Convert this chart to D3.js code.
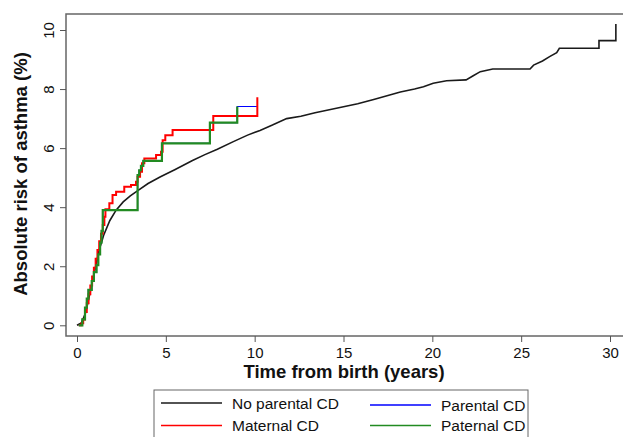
<!DOCTYPE html>
<html>
<head>
<meta charset="utf-8">
<script src="https://cdn.jsdelivr.net/npm/d3@7"></script>
<style>
  body { margin: 0; background: #fff; }
  text { font-family: "Liberation Sans", Arial, sans-serif; }
</style>
</head>
<body>
<div id="chart"></div>
<script>
// Data: cumulative absolute risk (%) by time from birth (years)
const noParentalT = [0, 0.25, 0.5, 0.75, 1.0, 1.25, 1.5, 1.85, 2.2, 2.6, 3.0, 3.4, 4.0, 4.7, 5.5, 6.5, 7.2, 7.9, 8.8, 9.6, 10.3, 11.0, 11.8, 12.6, 13.4, 14.2, 15.0, 15.8, 16.7, 17.5, 18.2, 19.0, 19.5, 20.05, 20.8, 21.9, 22.3, 22.7, 23.4, 25.5, 25.7, 26.2, 26.6, 27.0, 27.15, 29.38, 29.38, 30.33, 30.33];
const noParentalV = [0, 0.08, 0.45, 1.15, 1.85, 2.55, 3.05, 3.55, 3.9, 4.18, 4.38, 4.55, 4.8, 5.03, 5.27, 5.58, 5.78, 5.96, 6.22, 6.44, 6.6, 6.78, 7.0, 7.08, 7.2, 7.3, 7.4, 7.5, 7.65, 7.78, 7.9, 8.0, 8.08, 8.2, 8.28, 8.31, 8.45, 8.59, 8.68, 8.68, 8.81, 8.95, 9.1, 9.23, 9.38, 9.38, 9.64, 9.64, 10.2];

const maternalT = [0.1, 0.25, 0.35, 0.45, 0.55, 0.65, 0.75, 0.85, 0.95, 1.05, 1.15, 1.25, 1.35, 1.45, 1.54, 1.6, 1.82, 2.0, 2.2, 2.66, 3.04, 3.32, 3.41, 3.55, 3.66, 3.79, 4.45, 4.73, 4.82, 4.97, 5.38, 7.67, 10.15];
const maternalV = [0, 0.07, 0.2, 0.45, 0.75, 1.05, 1.35, 1.65, 1.95, 2.25, 2.55, 2.85, 3.1, 3.4, 3.68, 3.93, 4.13, 4.41, 4.52, 4.69, 4.75, 4.86, 5.03, 5.2, 5.49, 5.65, 5.77, 5.88, 6.27, 6.44, 6.61, 7.09, 7.72];

const paternalT = [0.1, 0.3, 0.45, 0.55, 0.64, 0.83, 0.95, 1.1, 1.2, 1.3, 1.38, 1.45, 3.41, 3.5, 3.6, 3.73, 4.78, 7.48, 9.02];
const paternalV = [0, 0.2, 0.6, 0.9, 1.2, 1.5, 1.8, 2.04, 2.4, 2.8, 3.2, 3.9, 5.09, 5.25, 5.4, 5.57, 6.16, 6.86, 7.41];

const parentalT = [0.1, 0.3, 0.45, 0.55, 0.64, 0.83, 0.95, 1.1, 1.2, 1.3, 1.38, 1.45, 3.41, 3.5, 3.6, 3.73, 4.78, 7.48, 9.02, 10.15];
const parentalV = [0, 0.2, 0.6, 0.9, 1.2, 1.5, 1.8, 2.04, 2.4, 2.8, 3.2, 3.9, 5.09, 5.25, 5.4, 5.57, 6.16, 6.86, 7.41, 7.41];

const xTicks = [0, 5, 10, 15, 20, 25, 30];
const yTicks = [0, 2, 4, 6, 8, 10];

const legendLabels = ["No parental CD", "Parental CD", "Maternal CD", "Paternal CD"];
const legendColors = ["#1a1a1a", "#0000ff", "#ff0000", "#228b22"];

// Dimensions
const width = 623;
const height = 437;
const frame = { left: 66, top: 14, right: 626, bottom: 336 };

const svg = d3.select("#chart")
  .append("svg")
  .attr("width", width)
  .attr("height", height);

// Scales
const x = d3.scaleLinear().domain([0, 30]).range([77, 610]);
const y = d3.scaleLinear().domain([0, 10]).range([325.3, 30]);

// Frame
svg.append("rect")
  .attr("x", frame.left)
  .attr("y", frame.top)
  .attr("width", frame.right - frame.left)
  .attr("height", frame.bottom - frame.top)
  .attr("fill", "none")
  .attr("stroke", "#666")
  .attr("stroke-width", 1.5);

// x axis
const xAxis = svg.append("g")
  .attr("transform", `translate(0, ${frame.bottom})`)
  .call(d3.axisBottom(x).tickValues(xTicks).tickSize(6).tickPadding(5));
xAxis.select(".domain").remove();
xAxis.selectAll("line").attr("stroke", "#555");
xAxis.selectAll("text")
  .style("font-size", "15px")
  .attr("fill", "#111");

// y axis, labels rotated
const yAxis = svg.append("g")
  .attr("transform", `translate(${frame.left}, 0)`)
  .call(d3.axisLeft(y).tickValues(yTicks).tickSize(6));
yAxis.select(".domain").remove();
yAxis.selectAll("line").attr("stroke", "#555");
yAxis.selectAll("text")
  .attr("x", 0)
  .attr("y", -12)
  .attr("dy", null)
  .attr("transform", "rotate(-90)")
  .attr("text-anchor", "middle")
  .style("font-size", "15px")
  .attr("fill", "#111");

// Lines
const line = d3.line()
  .x(d => x(d[0]))
  .y(d => y(d[1]));

// parental drawn first and thin, so it only shows where the others stop
const series = [
  { t: parentalT, v: parentalV, color: legendColors[1], curve: d3.curveStepAfter, w: 1.2 },
  { t: noParentalT, v: noParentalV, color: legendColors[0], curve: d3.curveLinear, w: 1.6 },
  { t: maternalT, v: maternalV, color: legendColors[2], curve: d3.curveStepAfter, w: 2 },
  { t: paternalT, v: paternalV, color: legendColors[3], curve: d3.curveStepAfter, w: 2.2 }
];

series.forEach(s => {
  svg.append("path")
    .datum(s.t.map((t, i) => [t, s.v[i]]))
    .attr("d", line.curve(s.curve))
    .attr("fill", "none")
    .attr("stroke", s.color)
    .attr("stroke-width", s.w);
});

// Axis titles
svg.append("text")
  .attr("x", 344)
  .attr("y", 378)
  .attr("text-anchor", "middle")
  .style("font-size", "18.5px")
  .style("font-weight", "bold")
  .attr("fill", "#111")
  .text("Time from birth (years)");

svg.append("text")
  .attr("transform", "rotate(-90)")
  .attr("x", -174)
  .attr("y", 27)
  .attr("text-anchor", "middle")
  .style("font-size", "18.5px")
  .style("font-weight", "bold")
  .attr("fill", "#111")
  .text("Absolute risk of asthma (%)");

// Legend
svg.append("rect")
  .attr("x", 154)
  .attr("y", 390)
  .attr("width", 374)
  .attr("height", 60)
  .attr("fill", "#fff")
  .attr("stroke", "#666")
  .attr("stroke-width", 1);

const legendPos = [
  { lx: 161, ty: 403 }, { lx: 370, ty: 405 },
  { lx: 161, ty: 425.5 }, { lx: 370, ty: 425.5 }
];

legendLabels.forEach((label, i) => {
  const p = legendPos[i];
  svg.append("line")
    .attr("x1", p.lx)
    .attr("x2", p.lx + 61)
    .attr("y1", p.ty)
    .attr("y2", p.ty)
    .attr("stroke", legendColors[i])
    .attr("stroke-width", 1.5);
  svg.append("text")
    .attr("x", p.lx + 71)
    .attr("y", p.ty + 5.5)
    .style("font-size", "15.5px")
    .attr("fill", "#111")
    .text(label);
});
</script>
</body>
</html>
